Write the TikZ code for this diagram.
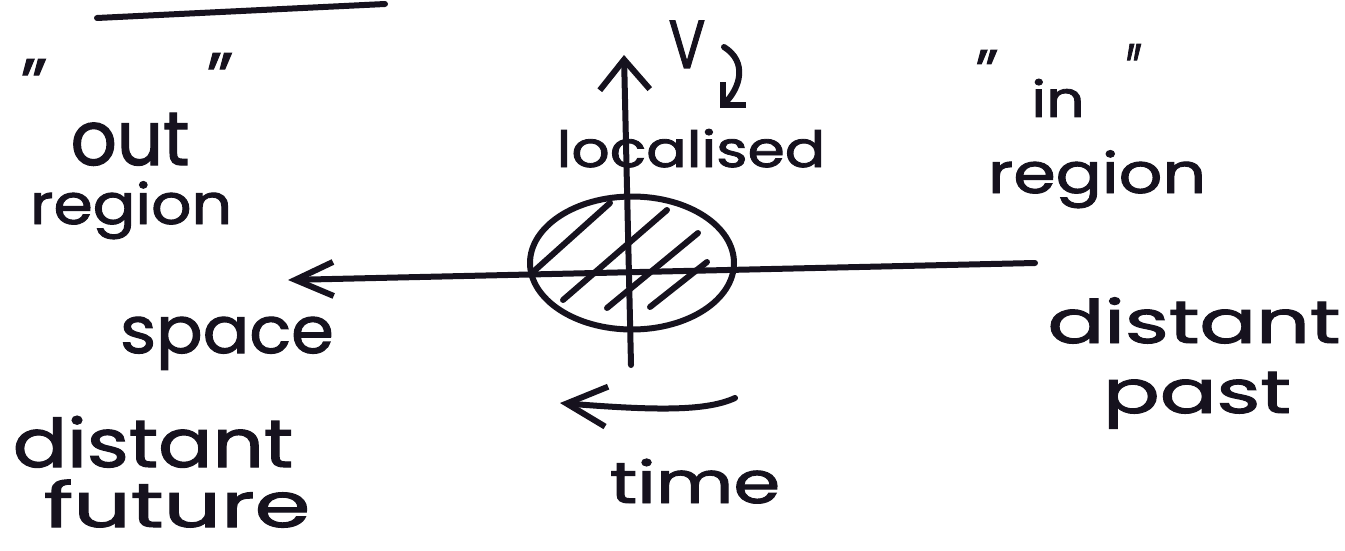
\documentclass[tikz,border=0pt]{standalone}
\usepackage{fontspec}
\setmainfont{Poppins}[FakeBold=1.6]
\usetikzlibrary{arrows.meta,shapes.geometric}
\definecolor{pen}{RGB}{22,18,30}
\newcommand\hw[2]{\scalebox{#1}[1]{#2}}
\begin{document}
\begin{tikzpicture}[x=1pt,y=-1pt,
  ink/.style={line width=6pt,line cap=round,line join=round,draw=pen},
  hw/.style={inner sep=0pt,anchor=base,text=pen},
  fs/.style={font=\fontsize{#1}{#1}\selectfont},
  barb/.style 2 args={-{Straight Barb[length=#1pt,width=#2pt,line width=6pt]}}]
\useasboundingbox[fill=white] (0,0) rectangle (1345,551);
% top rule
\coordinate (topL) at (97,18);
\coordinate (topR) at (385,4);
\draw[ink] (topL) -- (topR);
% vertical axis
\coordinate (vB) at (631,365);
\coordinate (vT) at (624,55);
\draw[ink,barb={30}{50}] (vB) -- (vT);
% horizontal axis (space)
\coordinate (hR) at (1035,263);
\coordinate (hL) at (288,280);
\draw[ink,barb={38}{34}] (hR) -- (hL);
% localised blob
\node[ink,draw,ellipse,minimum width=204pt,minimum height=133pt,inner sep=0pt] (blob) at (632,263) {};
\draw[ink] (533,272) -- (610,203);
\draw[ink] (563,300) -- (667,210);
\draw[ink] (607,308) -- (698,233);
\draw[ink] (650,307) -- (707,262);
% V and its arrow
\node[hw,fs=68] (V) at (687,68) {\hw{0.8}{V}};
\coordinate (vaS) at (724,47);
\coordinate (vaE) at (720,108);
\draw[ink,barb={16}{32}] (vaS) .. controls (748,62) and (740,88) .. (vaE);
\node[hw,fs=50] (loc) at (691,167) {\hw{1.2}{localised}};
% time arrow
\coordinate (tR) at (735,398);
\coordinate (tL) at (560,403);
\draw[ink,barb={40}{40}] (tR) .. controls (705,412) and (650,410) .. (tL);
\node[hw,fs=58] (time) at (695,503) {\hw{1.3}{time}};
% left labels
\node[hw,fs=70] (qoL) at (34,108) {"};
\node[hw,fs=76] (out) at (130,165) {\hw{0.95}{out}};
\node[hw,fs=70] (qoR) at (220,102) {"};
\node[hw,fs=56] (oreg) at (131,224) {\hw{1.13}{region}};
\node[hw,fs=65] (space) at (227,353) {\hw{1.06}{space}};
\node[hw,fs=67] (dfut1) at (153,467) {\hw{1.2}{distant}};
\node[hw,fs=62] (dfut2) at (177,527) {\hw{1.45}{future}};
% right labels
\node[hw,fs=60] (qiL) at (987,92) {"};
\node[hw,fs=50] (in) at (1058,117) {\hw{1.2}{in}};
\node[hw,fs=70] (qiR) at (1134,93) {\hw{0.6}{"}};
\node[hw,fs=56] (ireg) at (1097,193) {\hw{1.22}{region}};
\node[hw,fs=60] (dp1) at (1194,343) {\hw{1.4}{distant}};
\node[hw,fs=60] (dp2) at (1197,413) {\hw{1.4}{past}};
\end{tikzpicture}
\end{document}
